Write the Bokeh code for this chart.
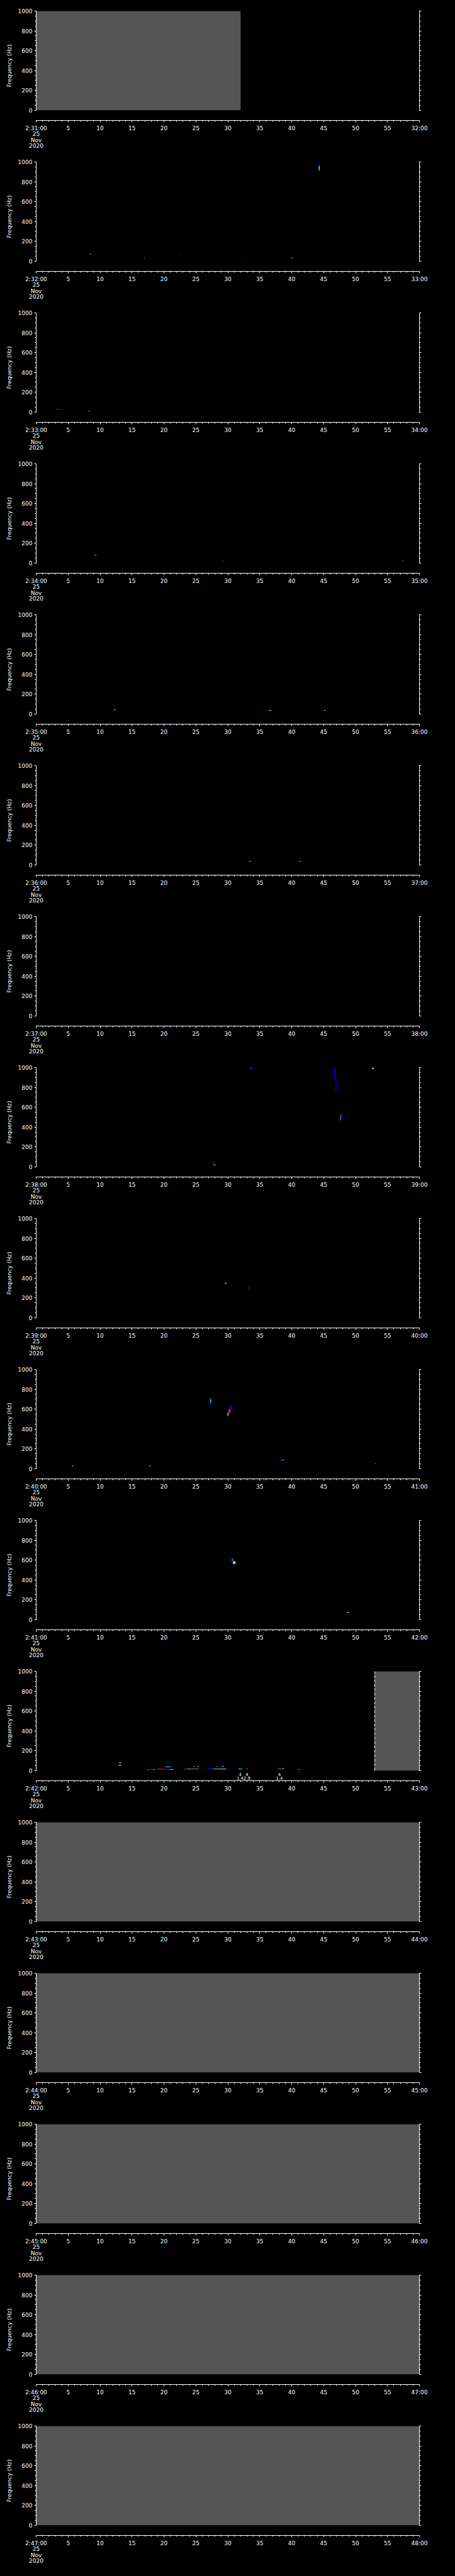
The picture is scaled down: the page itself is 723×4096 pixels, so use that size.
from bokeh.plotting import figure
from bokeh.layouts import column
from bokeh.models import (LinearAxis, FixedTicker, Label, LinearColorMapper,
                          ColumnDataSource, Range1d)
from bokeh.core.properties import value
from bokeh.embed import file_html
from bokeh.resources import INLINE

# ------------------------------------------------------------------ data
panel_ids = list(range(1, 18))
start_minute = [31, 32, 33, 34, 35, 36, 37, 38, 39, 40, 41, 42, 43, 44, 45, 46, 47]
date_lines = ["25", "Nov", "2020"]
x_major = [0, 5, 10, 15, 20, 25, 30, 35, 40, 45, 50, 55, 60]
y_major = [0, 200, 400, 600, 800, 1000]
y_labels = ["0", "200", "400", "600", "800", "1000"]
freq_label = "Frequency (Hz)"

# intervals without data (grey)
nodata_panel = [1, 12, 13, 14, 15, 16, 17]
nodata_t0 = [0, 53, 0, 0, 0, 0, 0]
nodata_t1 = [32, 60, 60, 60, 60, 60, 60]

# spectrogram cells: panel, time start/end (s), freq bottom/top (Hz), power (0..1)
cell_panel = [2, 2, 2, 2, 2, 2, 2, 2, 2,
              3, 3, 3,
              4, 4, 4, 4,
              5, 5, 5, 5, 5,
              6, 6,
              8, 8, 8, 8, 8, 8, 8,
              9, 9,
              10, 10, 10, 10, 10, 10, 10, 10, 10,
              11, 11, 11,
              12, 12, 12, 12, 12, 12, 12, 12, 12, 12,
              12, 12, 12, 12, 12, 12, 12, 12, 12, 12,
              12, 12, 12, 12, 12, 12, 12, 12, 12, 12]
cell_t0 = [44.15, 44.25, 8.4, 16.85, 16.93, 22.45, 32.8, 32.9, 39.95,
           3.15, 3.55, 8.25,
           9.1, 29.1, 57.2, 57.45,
           12.2, 12.2, 36.4, 36.6, 45.1,
           33.3, 41.2,
           33.5, 46.65, 46.85, 47.6, 52.6, 27.5, 27.7,
           29.5, 33.1,
           27.2, 27.25, 29.95, 30.1, 30.4, 5.6, 17.7, 38.3, 53.0,
           30.6, 30.8, 48.7,
           12.85, 13.05, 12.9, 17.41, 17.57, 18.26, 18.6, 18.96, 19.88, 20.92,
           20.18, 23.12, 23.6, 24.2, 24.9, 25.3, 24.7, 25.2, 26.71, 27.7,
           28.4, 29.0, 29.7, 28.22, 29.0, 31.64, 32.88, 37.82, 38.51, 41.01]
cell_t1 = [44.3, 44.4, 8.55, 16.93, 17.0, 22.6, 32.9, 33.0, 40.1,
           3.55, 4.05, 8.4,
           9.45, 29.4, 57.45, 57.65,
           12.4, 12.4, 36.6, 36.9, 45.3,
           33.6, 41.5,
           33.8, 46.85, 47.0, 47.75, 52.85, 27.95, 28.15,
           29.8, 33.3,
           27.35, 27.4, 30.1, 30.4, 30.7, 5.8, 17.9, 38.8, 53.2,
           30.8, 31.2, 48.95,
           13.05, 13.3, 13.3, 17.57, 18.26, 18.6, 18.96, 19.88, 20.92, 21.43,
           21.09, 23.6, 24.2, 24.9, 25.3, 25.55, 24.86, 25.44, 27.7, 28.4,
           29.0, 29.7, 30.18, 28.57, 29.4, 32.26, 33.14, 38.4, 38.79, 41.22]
cell_f0 = [960, 915, 68, 29, 29, 63, 29, 29, 29,
           24, 24, 6,
           76, 16, 16, 16,
           76, 39, 32, 32, 32,
           33, 33,
           985, 880, 750, 467, 985, 36, 14,
           344, 296,
           641, 665, 530, 560, 595, 22, 22, 81, 48,
           590, 559, 70,
           72, 72, 46, 4, 6, 6, 8, 12, 8, 8,
           33, 12, 12, 12, 12, 16, 37, 37, 14, 12,
           12, 12, 12, 37, 37, 12, 12, 12, 16, 8]
cell_f1 = [1000, 960, 76, 37, 37, 71, 37, 37, 37,
           32, 32, 14,
           84, 24, 24, 24,
           84, 47, 40, 40, 40,
           38, 38,
           1000, 1000, 880, 530, 1000, 44, 22,
           352, 304,
           665, 704, 565, 600, 641, 30, 30, 89, 56,
           615, 590, 78,
           80, 80, 54, 11, 13, 13, 15, 19, 15, 15,
           41, 19, 19, 19, 19, 23, 45, 45, 21, 19,
           19, 19, 19, 45, 45, 19, 19, 19, 23, 15]
cell_power = [0.12, 0.45, 0.62, 0.92, 0.55, 0.15, 0.9, 0.15, 0.55,
              0.93, 0.13, 0.55,
              0.3, 0.93, 0.92, 0.15,
              0.15, 0.62, 0.55, 0.25, 0.58,
              0.6, 0.6,
              0.2, 0.08, 0.1, 0.25, 0.6, 0.95, 0.3,
              0.4, 0.25,
              0.15, 0.38, 0.4, 0.85, 0.12, 0.5, 0.5, 0.3, 0.85,
              0.25, 0.45, 0.6,
              0.92, 0.62, 0.38, 0.58, 0.18, 0.36, 0.15, 0.85, 0.93, 0.66,
              0.28, 0.88, 0.35, 0.78, 0.32, 0.95, 0.4, 0.38, 0.15, 0.72,
              0.45, 0.66, 0.14, 0.2, 0.3, 0.4, 0.8, 0.3, 0.66, 0.55]

# event marks under panel 12
mark_t = [31.94, 33.0, 38.08]
mark_top = ["4", "4", "4"]
mark_bottom = ["1.4", "2.9", "1.4"]
flag_panel = 12
flag_t = 51.0
flag_text = "$ADRUN,0,*"

# ------------------------------------------------------------------ style
FONT = "DejaVu Sans"
GREY = "#555555"
WHITE = "#ffffff"
W = 707
H = 240


def jet(n=256):
    out = []
    for i in range(n):
        x = i / (n - 1)
        r = min(1, max(0, 1.5 - abs(4 * x - 3)))
        g = min(1, max(0, 1.5 - abs(4 * x - 2)))
        b = min(1, max(0, 1.5 - abs(4 * x - 1)))
        out.append("#%02x%02x%02x" % (int(r * 255), int(g * 255), int(b * 255)))
    return out


mapper = LinearColorMapper(palette=jet(), low=0, high=1)


def style_axis(ax):
    ax.axis_line_color = WHITE
    ax.axis_line_width = 1
    ax.major_tick_line_color = WHITE
    ax.minor_tick_line_color = WHITE
    ax.major_tick_in = 0
    ax.minor_tick_in = 0
    ax.major_tick_out = 3
    ax.minor_tick_out = 2
    ax.major_label_text_color = WHITE
    ax.major_label_text_font = FONT
    ax.major_label_text_font_size = "9px"
    ax.axis_label_text_color = WHITE
    ax.axis_label_text_font = FONT
    ax.axis_label_text_font_size = "9px"
    ax.axis_label_text_font_style = "normal"


def y_ticker():
    return FixedTicker(ticks=y_major, minor_ticks=list(range(0, 1001, 50)))


figs = []
for k, pid in enumerate(panel_ids):
    m = start_minute[k]
    p = figure(width=W, height=H, x_range=Range1d(0, 60), y_range=Range1d(-103, 1000),
               output_backend="svg", toolbar_location=None,
               min_border_left=57, min_border_right=41, min_border_top=17,
               min_border_bottom=42, background_fill_color="black",
               border_fill_color="black", outline_line_color=None)
    p.grid.visible = False

    # x axis
    xa = p.xaxis[0]
    xa.ticker = FixedTicker(ticks=x_major, minor_ticks=list(range(0, 61)))
    overrides = {t: str(t) for t in x_major}
    overrides[0] = "%d:%02d:00\n" % (2, m) + "\n".join(date_lines)
    overrides[60] = "%02d:00" % (m + 1)
    xa.major_label_overrides = overrides
    style_axis(xa)
    xa.major_label_standoff = 4
    xa.major_label_text_line_height = 0.95

    # left y axis
    ya = p.yaxis[0]
    ya.bounds = (0, 1000)
    ya.ticker = y_ticker()
    ya.major_label_overrides = dict(zip(y_major, y_labels))
    ya.axis_label = freq_label
    style_axis(ya)
    ya.major_label_standoff = 3
    ya.axis_label_standoff = 6

    # right y axis
    ra = LinearAxis(bounds=(0, 1000), ticker=y_ticker())
    style_axis(ra)
    ra.major_label_text_color = None
    p.add_layout(ra, "right")

    # grey no-data blocks
    g_idx = [i for i, q in enumerate(nodata_panel) if q == pid]
    if g_idx:
        src = ColumnDataSource(dict(
            left=[nodata_t0[i] for i in g_idx],
            right=[nodata_t1[i] for i in g_idx],
            bottom=[0 for i in g_idx], top=[1000 for i in g_idx]))
        p.quad(left="left", right="right", bottom="bottom", top="top", source=src,
               fill_color=GREY, line_color=None)

    # spectrogram cells
    c_idx = [i for i, q in enumerate(cell_panel) if q == pid]
    if c_idx:
        src = ColumnDataSource(dict(
            left=[cell_t0[i] for i in c_idx], right=[cell_t1[i] for i in c_idx],
            bottom=[cell_f0[i] for i in c_idx], top=[cell_f1[i] for i in c_idx],
            power=[cell_power[i] for i in c_idx]))
        p.quad(left="left", right="right", bottom="bottom", top="top", source=src,
               fill_color={"field": "power", "transform": mapper}, line_color=None)

    if pid == flag_panel:
        p.segment(x0=[53], y0=[0], x1=[53], y1=[1000], line_color=WHITE,
                  line_width=1, line_dash="5 2")
        p.add_layout(Label(x=flag_t, y=1026, text=flag_text, text_color=WHITE,
                           text_font=FONT, text_font_size="7px",
                           text_align="left", text_baseline="middle"))
        msrc = ColumnDataSource(dict(x=mark_t, top=mark_top, bot=mark_bottom,
                                     y1=[-35] * len(mark_t), y2=[-74] * len(mark_t)))
        p.text(x="x", y="y1", text="top", source=msrc, text_color=WHITE,
               text_font=value(FONT), text_font_size="7px", text_align="center",
               text_baseline="middle")
        p.text(x="x", y="y2", text="bot", source=msrc, text_color=WHITE,
               text_font=value(FONT), text_font_size="7px", text_align="center",
               text_baseline="middle")

    # panel number
    p.add_layout(Label(x=-4.78, y=896, text="(%d)" % pid, text_color="#a8a8a8",
                       text_font=FONT, text_font_size="9px",
                       text_align="left", text_baseline="middle"))
    figs.append(p)

layout = column(*figs, spacing=0)
html = file_html(layout, INLINE)
html = html.replace("<head>", "<head><style>html,body{background:#000;}</style>", 1)
open("out.html", "w").write(html)
